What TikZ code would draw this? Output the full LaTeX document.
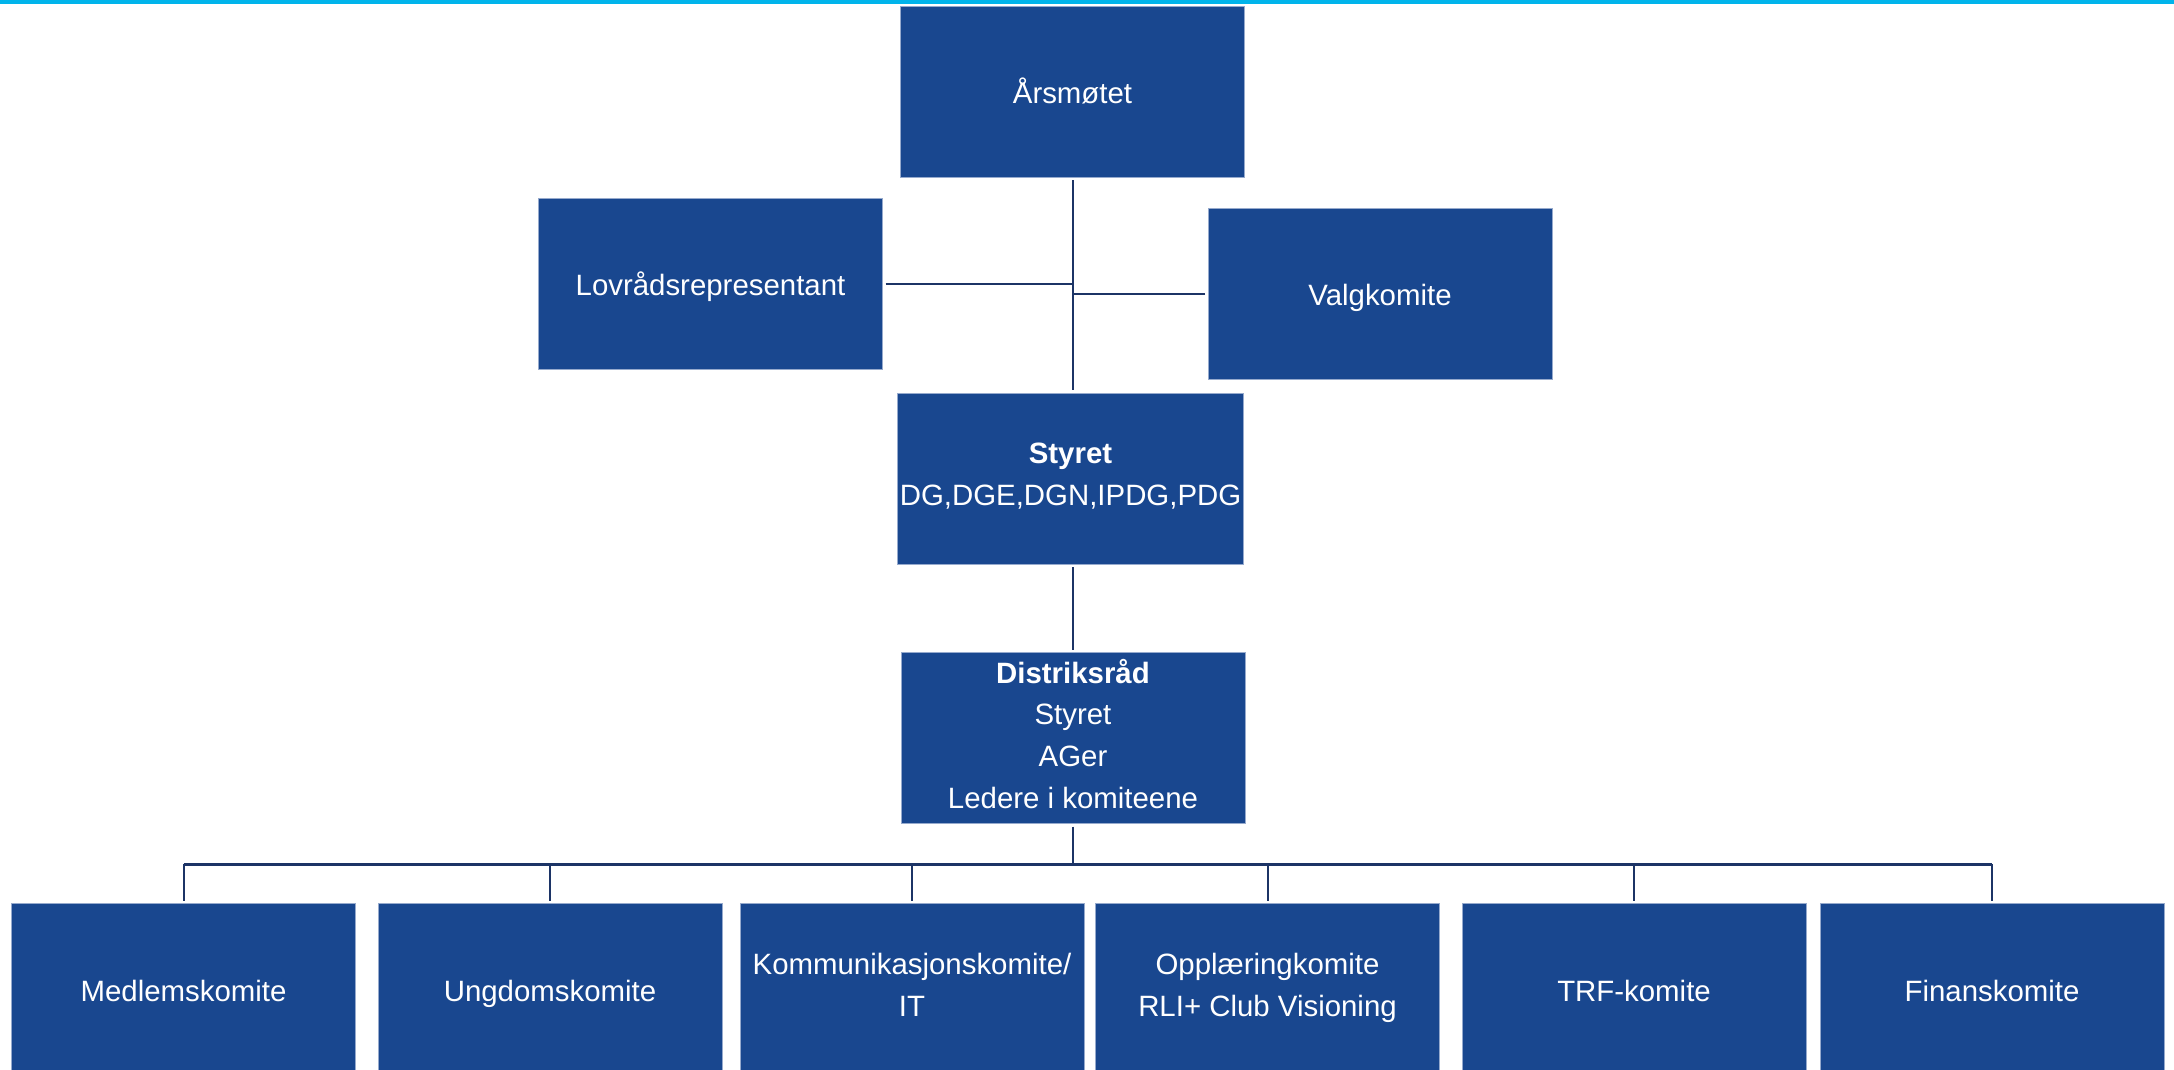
\documentclass[tikz,border=0pt]{standalone}
\usepackage{fontspec}
\setmainfont{Liberation Sans}
\definecolor{orgblue}{RGB}{25,71,143}
\definecolor{orgline}{RGB}{28,52,102}
\definecolor{orgedge}{RGB}{150,170,205}
\definecolor{topcyan}{RGB}{0,180,235}
\newcommand\boxstrut{\rule[-4.25pt]{0pt}{20.9pt}}
\begin{document}
\begin{tikzpicture}[x=0.5pt,y=-0.5pt,
    orgbox/.style={fill=orgblue,draw=orgedge,line width=0.4pt,text=white,
      minimum width=172pt,minimum height=85.5pt,inner sep=1pt,outer sep=1.5pt,
      align=center,font=\fontsize{14.7}{20.9}\selectfont,
      execute at begin node=\boxstrut,execute at end node=\boxstrut},
    orgconn/.style={draw=orgline,line width=1pt},
    orgbus/.style={draw=orgline,line width=1.5pt}]
            \useasboundingbox (0,0) rectangle (2174,1070);
            
            % Top rule
            \fill [topcyan] (0,0) rectangle (2174,4.5);%
            
            % Top level boxes
            \node [orgbox] (aarsmote) at (1072.5,91.5) {Årsmøtet};%
            \node [orgbox] (lovraad) at (710.5,283.5) {Lovrådsrepresentant};%
            \node [orgbox] (valg) at (1380,293.5) {Valgkomite};%
            \node [orgbox] (styret) at (1070.5,478.5) {\textbf{Styret}\\DG,DGE,DGN,IPDG,PDG};%
            \node [orgbox] (distrikt) at (1073,738) {\textbf{Distriksråd}\\Styret\\AGer\\Ledere i komiteene};%
            
            % Committee boxes
            \node [orgbox] (medlem) at (183.5,989) {Medlemskomite};%
            \node [orgbox] (ungdom) at (550,989) {Ungdomskomite};%
            \node [orgbox] (kommunikasjon) at (912,989) {Kommunikasjonskomite/\\IT};%
            \node [orgbox] (opplaering) at (1267.5,989) {Opplæringkomite\\RLI+ Club Visioning};%
            \node [orgbox] (trf) at (1634,989) {TRF-komite};%
            \node [orgbox] (finans) at (1992,989) {Finanskomite};%
            
            % Trunk from Årsmøtet to Styret
            \draw [orgconn] (aarsmote.south) -- (aarsmote.south |- styret.north);%
            \draw [orgconn] (lovraad.east) -- (lovraad.east -| aarsmote.south);%
            \draw [orgconn] (valg.west) -- (valg.west -| aarsmote.south);%
            
            % Styret to Distriksråd
            \draw [orgconn] (distrikt.north |- styret.south) -- (distrikt.north);%
            
            % Bus to the committees
            \coordinate (bus) at (1073,864);%
            \draw [orgconn] (distrikt.south) -- (bus);%
            \draw [orgbus] (medlem.north |- bus) -- (finans.north |- bus);%
            \foreach \k in {medlem,ungdom,kommunikasjon,opplaering,trf,finans}
              \draw [orgconn] (\k.north |- bus) -- (\k.north);%
        \end{tikzpicture}
\end{document}
